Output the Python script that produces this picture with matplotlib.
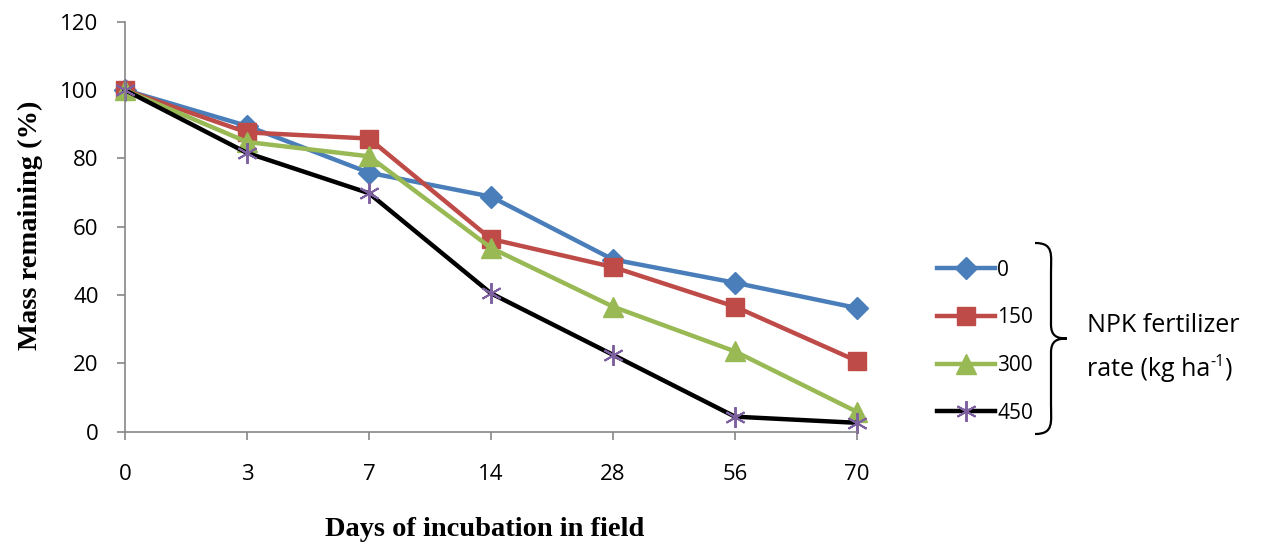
import numpy as np
import matplotlib.pyplot as plt
from matplotlib.path import Path
from matplotlib.patches import PathPatch

days = ['0', '3', '7', '14', '28', '56', '70']
rates = ['0', '150', '300', '450']
mass_0 = [100, 89.5, 75.8, 68.8, 50.4, 43.6, 36.2]
mass_150 = [100, 87.6, 85.8, 56.4, 48.2, 36.6, 20.7]
mass_300 = [100, 84.8, 80.6, 53.8, 36.6, 23.5, 5.8]
mass_450 = [100, 81.6, 69.8, 40.5, 22.5, 4.4, 2.6]

series = [mass_0, mass_150, mass_300, mass_450]
colors = ['#4A7EBB', '#BE4B48', '#98B954', '#000000']
markers = ['D', 's', '^', (6, 2, 0)]
msizes = [11, 13, 14, 15]

W, H = 1264, 544
fig = plt.figure(figsize=(W / 100, H / 100), dpi=100)
ax = fig.add_axes([125 / W, (H - 431.7) / H, (857 - 125) / W, 410 / H])

x = np.arange(len(days))
handles = []
for vals, c, m, ms, lab in zip(series, colors, markers, msizes, rates):
    if lab == '450':
        ln, = ax.plot(x, vals, color=c, lw=3.2, marker=m, markersize=ms,
                      markeredgecolor='#7D60A0', markerfacecolor='#7D60A0',
                      markeredgewidth=1.4, label=lab, clip_on=False)
    else:
        ln, = ax.plot(x, vals, color=c, lw=3.2, marker=m, markersize=ms,
                      markeredgecolor=c, markerfacecolor=c, label=lab,
                      clip_on=False)
    handles.append(ln)

ax.set_xlim(0, 6)
ax.set_ylim(0, 120)
ax.set_yticks(np.arange(0, 121, 20))
ax.set_xticks(x)
ax.set_xticklabels(days)

axis_gray = '#868686'
for s in ['top', 'right']:
    ax.spines[s].set_visible(False)
for s in ['left', 'bottom']:
    ax.spines[s].set_color(axis_gray)
    ax.spines[s].set_linewidth(1.2)
ax.tick_params(axis='both', direction='out', length=6, width=1.2,
               color=axis_gray, labelsize=16)
ax.tick_params(axis='y', pad=13)
ax.tick_params(axis='x', pad=17)
for lbl in ax.get_xticklabels() + ax.get_yticklabels():
    lbl.set_fontfamily('Open Sans')

fig.text(30 / W, 1 - 225 / H, 'Mass remaining (%)', rotation=90,
         ha='center', va='center', family='Liberation Serif',
         fontweight='bold', fontsize=20.5)
fig.text(485 / W, 1 - 530 / H, 'Days of incubation in field',
         ha='center', va='center', family='Liberation Serif',
         fontweight='bold', fontsize=20.5)

leg = fig.legend(handles=handles, labels=rates, loc='upper left',
                 bbox_to_anchor=(918 / W, 1 - 241 / H), frameon=False,
                 handlelength=2.8, handletextpad=0.1, labelspacing=1.28,
                 prop={'family': 'Open Sans', 'size': 15})

# curly brace beside the legend
def brace(x0, y_top, y_bot, width):
    ym = (y_top + y_bot) / 2
    w = width
    verts = [
        (x0, y_top),
        (x0 + w * 0.6, y_top), (x0 + w * 0.5, y_top + 12), (x0 + w * 0.5, y_top + 30),
        (x0 + w * 0.5, ym - 14),
        (x0 + w * 0.5, ym - 2), (x0 + w * 0.7, ym), (x0 + w, ym),
        (x0 + w * 0.7, ym), (x0 + w * 0.5, ym + 2), (x0 + w * 0.5, ym + 14),
        (x0 + w * 0.5, y_bot - 30),
        (x0 + w * 0.5, y_bot - 12), (x0 + w * 0.6, y_bot), (x0, y_bot),
    ]
    codes = [Path.MOVETO,
             Path.CURVE4, Path.CURVE4, Path.CURVE4,
             Path.LINETO,
             Path.CURVE4, Path.CURVE4, Path.CURVE4,
             Path.CURVE4, Path.CURVE4, Path.CURVE4,
             Path.LINETO,
             Path.CURVE4, Path.CURVE4, Path.CURVE4]
    pts = [(vx / W, 1 - vy / H) for vx, vy in verts]
    patch = PathPatch(Path(pts, codes), transform=fig.transFigure,
                      fill=False, lw=1.6, edgecolor='black')
    fig.add_artist(patch)

brace(1035, 243, 434, 32)

fig.text(1087 / W, 1 - 326 / H, 'NPK fertilizer', ha='left', va='center',
         family='Open Sans', fontsize=18)

# second line with a plain-hyphen superscript
renderer = fig.canvas.get_renderer()
t1 = fig.text(1087 / W, 1 - 369 / H, 'rate (kg ha', ha='left',
              va='center', family='Open Sans', fontsize=18)
bb = t1.get_window_extent(renderer)
t2 = fig.text(bb.x1 / W, (bb.y1 - 6) / H, '-1', ha='left', va='center',
              family='Open Sans', fontsize=11.5)
bb2 = t2.get_window_extent(renderer)
fig.text(bb2.x1 / W, 1 - 369 / H, ')', ha='left', va='center',
         family='Open Sans', fontsize=18)

fig.savefig('out.png', dpi=100)
